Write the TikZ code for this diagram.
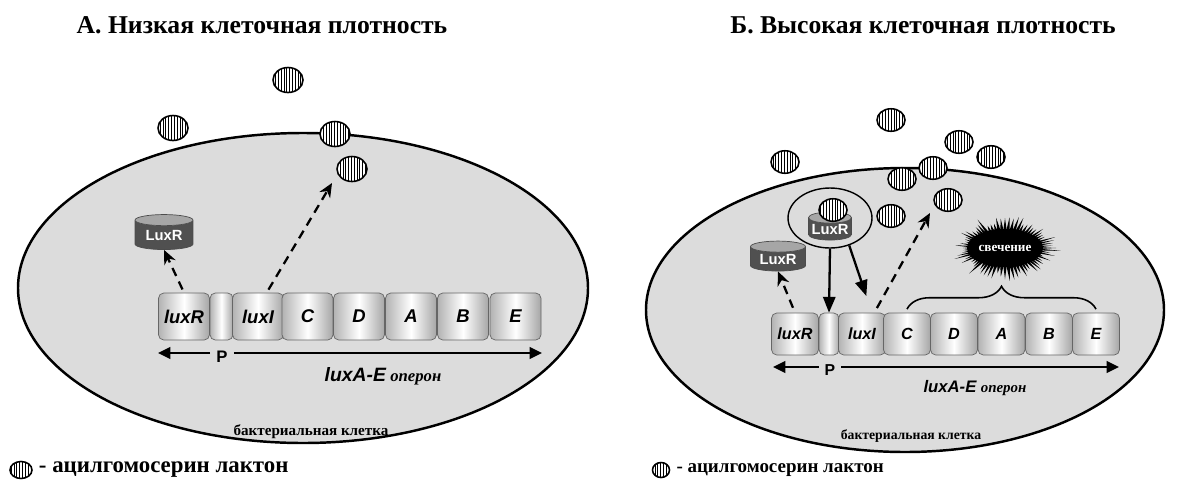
\documentclass[tikz,border=0pt]{standalone}
\usepackage{fontspec}
\setmainfont{Liberation Serif}
\setsansfont{Liberation Sans}
\usetikzlibrary{positioning,shapes.geometric,arrows.meta,patterns.meta,decorations.pathreplacing}

\definecolor{cellgray}{HTML}{DCDCDC}
\definecolor{protgray}{HTML}{505050}

\tikzset{
  cell/.style={draw, line width=1.4pt, fill=cellgray},
  ahl/.style={ellipse, draw, line width=0.9pt, inner sep=0pt,
    minimum width=0.6cm, minimum height=0.5cm, preaction={fill=white},
    pattern={Lines[angle=90,distance=1.6pt,line width=0.45pt]}},
  gene/.style={draw=black!60, rounded corners=3pt, inner sep=0pt,
    left color=gray!60, right color=gray!70, middle color=white,
    minimum width=1.02cm, minimum height=0.94cm,
    font=\sffamily\bfseries\itshape\fontsize{10.5}{12}\selectfont},
  smallgene/.style={gene, minimum width=0.94cm, minimum height=0.84cm,
    font=\sffamily\bfseries\itshape\fontsize{9.2}{11}\selectfont},
  luxr/.style={cylinder, shape border rotate=90, aspect=0.3, draw=black!70,
    cylinder uses custom fill, cylinder body fill=protgray,
    cylinder end fill=gray!70, inner sep=0pt, text=white,
    font=\sffamily\bfseries\fontsize{8.4}{9}\selectfont},
  dasharrow/.style={line width=1.3pt, dash pattern=on 5pt off 3.5pt,
    -{Stealth[length=8pt,width=7pt]}},
  solidarrow/.style={line width=1.3pt, -{Triangle[length=9pt,width=7pt]}},
  operon/.style={line width=1.3pt, -{Triangle[length=7pt,width=6.5pt]}},
  title/.style={font=\bfseries\fontsize{14.6}{17}\selectfont},
  celltext/.style={font=\bfseries\fontsize{8.6}{10}\selectfont},
}

\begin{document}
\begin{tikzpicture}[x=0.02cm,y=-0.02cm]
  \useasboundingbox (0,0) rectangle (1197,484);

  \node[title] (tA) at (262,25) {А. Низкая клеточная плотность};
  \node[title] (tB) at (923,25) {Б. Высокая клеточная плотность};

  % cells
  \draw[cell] (303,288) ellipse [x radius=285, y radius=155];
  \draw[cell] (905,310) ellipse [x radius=259, y radius=142];

  %%% low density
  \node[gene] (rA) at (184,316.5) {luxR};
  \node[gene, minimum width=0.46cm] (pA) at (221.5,316.5) {};
  \node[gene] (iA) at (258,316.5) {luxI};
  \node[gene] (cA) at (307.5,316.5) {C};
  \node[gene] (dA) at (359,316.5) {D};
  \node[gene] (aA) at (411,316.5) {A};
  \node[gene] (bA) at (463,316.5) {B};
  \node[gene] (eA) at (515.5,316.5) {E};

  \coordinate (oLA) at (158,353);
  \coordinate (oRA) at (542,353);
  \node[font=\sffamily\bfseries\fontsize{9.5}{10}\selectfont] (PA) at (222,357) {P};
  \draw[operon] (PA.west |- oLA) -- (oLA);
  \draw[operon] (PA.east |- oRA) -- (oRA);
  \node (opA) at (383,376) {{\sffamily\bfseries\itshape\fontsize{11}{12}\selectfont luxA-E}
    {\bfseries\itshape\fontsize{9.5}{11}\selectfont оперон}};
  \node[celltext] (bcA) at (311,432) {бактериальная клетка};

  \node[luxr, minimum width=1.16cm, minimum height=0.7cm] (LA) at (164,235) {LuxR};

  \node[ahl] (m1) at (288,80) {};
  \node[ahl] (m2) at (173,128) {};
  \node[ahl] (m3) at (335,134) {};
  \node[ahl] (m4) at (352,169) {};
  \coordinate (sA) at (332,183);

  \draw[dasharrow, shorten <=2pt] (rA.north) -- (LA.south);
  \draw[dasharrow, shorten <=2pt] (iA.70) -- (sA);

  \node[ahl, minimum width=0.44cm, minimum height=0.34cm] (kA) at (21,470) {};
  \node[anchor=west, font=\bfseries\fontsize{13}{14}\selectfont] (lgA) at (kA.east) {- ацилгомосерин лактон};

  %%% high density
  \node[smallgene] (rB) at (795,334) {luxR};
  \node[smallgene, minimum width=0.4cm] (pB) at (829,334) {};
  \node[smallgene] (iB) at (862,334) {luxI};
  \node[smallgene] (cB) at (907,334) {C};
  \node[smallgene] (dB) at (954,334) {D};
  \node[smallgene] (aB) at (1001.5,334) {A};
  \node[smallgene] (bB) at (1049,334) {B};
  \node[smallgene] (eB) at (1096,334) {E};

  \coordinate (oLB) at (773,367);
  \coordinate (oRB) at (1119,367);
  \node[font=\sffamily\bfseries\fontsize{9}{10}\selectfont] (PB) at (830,370) {P};
  \draw[operon] (PB.west |- oLB) -- (oLB);
  \draw[operon] (PB.east |- oRB) -- (oRB);
  \node (opB) at (975,388) {{\sffamily\bfseries\itshape\fontsize{9.5}{11}\selectfont luxA-E}
    {\bfseries\itshape\fontsize{8.5}{10}\selectfont оперон}};
  \node[celltext, font=\bfseries\fontsize{7.8}{9}\selectfont] (bcB) at (911,436) {бактериальная клетка};

  % glow over the C-E genes
  \begin{scope}[shift={(1005,248)}]
    \pgfmathsetseed{11}
    \foreach \a in {0,5,...,355}{
      \pgfmathsetmacro\r{0.7+0.3*rnd}
      \fill ({34*cos(\a-3)},{17*sin(\a-3)}) -- ({57*\r*cos(\a)},{34*\r*sin(\a)})
        -- ({34*cos(\a+3)},{17*sin(\a+3)}) -- cycle;
    }
    \fill (0,0) ellipse [x radius=38, y radius=19];
  \end{scope}
  \node[text=white, font=\bfseries\fontsize{7.5}{8}\selectfont] (gl) at (1005,248) {свечение};
  \draw[line width=0.9pt, decorate, decoration={brace, amplitude=13pt}]
    ([yshift=2pt]cB.north) -- ([yshift=2pt]eB.north);

  \node[luxr, minimum width=1.1cm, minimum height=0.6cm] (LB) at (778,259) {LuxR};
  \node[draw, ellipse, line width=0.8pt, minimum width=1.68cm, minimum height=1.2cm] (cx) at (830,218) {};
  \node[luxr, minimum width=0.86cm, minimum height=0.56cm] (LC) at (830,229) {LuxR};

  \foreach \n/\p in {n1/{(785,162)}, n2/{(891,120)}, n3/{(959,142)}, n4/{(991,157)},
    n5/{(933,168)}, n6/{(902,179)}, n7/{(948,200)}, n8/{(891,216)}, n9/{(833,210)}}
    \node[ahl, minimum width=0.56cm, minimum height=0.45cm] (\n) at \p {};
  \coordinate (sB) at (930,213);

  \draw[dasharrow, shorten <=3pt] (rB.north) -- (LB.south);
  \draw[dasharrow, shorten <=3pt] (iB.60) -- (sB);
  \draw[solidarrow] (cx.south) -- (pB.north);
  \draw[solidarrow, shorten >=10pt] (cx.-55) -- (iB.65);

  \node[ahl, minimum width=0.34cm, minimum height=0.3cm] (kB) at (661,470) {};
  \node[anchor=west, font=\bfseries\fontsize{10.8}{12}\selectfont] (lgB) at (kB.east) {- ацилгомосерин лактон};
\end{tikzpicture}
\end{document}
